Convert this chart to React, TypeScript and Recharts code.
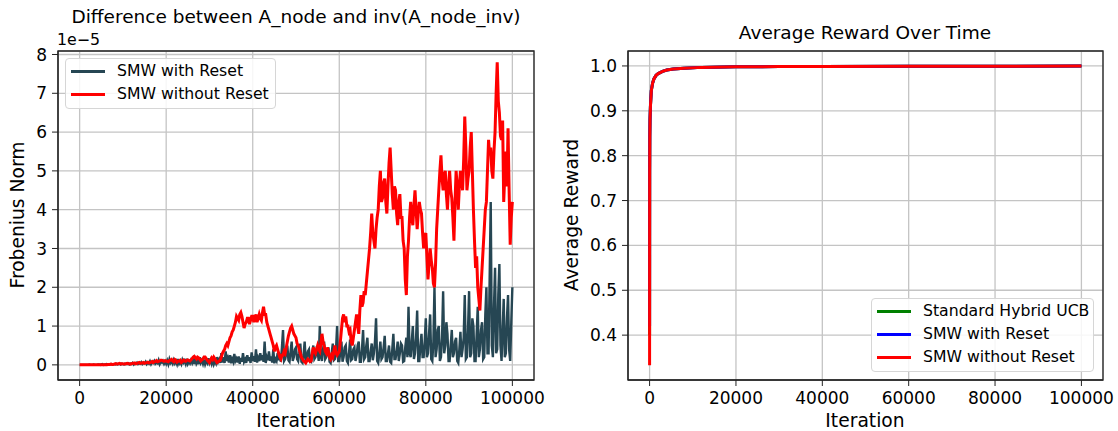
import React from "react";
import {
  LineChart,
  Line,
  XAxis,
  YAxis,
  CartesianGrid,
  ReferenceArea,
} from "recharts";

// left panel: Frobenius norm in units of 1e-5, one reading every 250 iterations
const ITER_STEP = 250;

const SMW_RESET_NORM = [
  0, 0, 0, 0, 0, 0, 0, 0, 0, 0.01, 0, 0, 0, 0.01, 0, 0, 0, 0.01, 0.01, 0, 0.01, 0.02, 0, 0.01, 0.01, 0.02, 0.01, 0.01, 0.01, 0.02, 0.01, 0.02, 0.02, 0.01, 0.03, 0.01, 0.02, 0.03, 0.01, 0.03,
  0.02, 0.01, 0.03, 0.02, 0.02, 0.04, 0.01, 0.03, 0.02, 0.05, 0.01, 0.04, 0.03, 0.06, 0.02, 0.04, 0.03, 0.07, 0.02, 0.05, 0.04, 0.08, 0.02, 0.06, 0.03, 0.09, 0.02, 0.07, 0.05, 0.1, 0.03, 0.06, 0.04, 0.12, 0.02, 0.08, 0.06, 0.1, 0.03, 0.09,
  0.03, 0.11, 0.02, 0.14, 0.05, 0.09, 0.03, 0.12, 0.04, 0.1, 0.02, 0.15, 0.03, 0.08, 0.02, 0.13, 0.06, 0.11, 0.03, 0.16, 0.03, 0.09, 0.04, 0.12, 0.05, 0.14, 0.02, 0.18, 0.04, 0.1, 0.02, 0.2, 0.06, 0.12, 0.03, 0.14, 0.02, 0.11, 0.05, 0.17,
  0.05, 0.12, 0.03, 0.15, 0.02, 0.1, 0.04, 0.2, 0.08, 0.14, 0.05, 0.3, 0.06, 0.2, 0.05, 0.35, 0.1, 0.18, 0.06, 0.25, 0.04, 0.15, 0.08, 0.28, 0.1, 0.16, 0.06, 0.22, 0.03, 0.18, 0.08, 0.3, 0.08, 0.14, 0.05, 0.25, 0.1, 0.2, 0.05, 0.32,
  0.1, 0.22, 0.08, 0.4, 0.06, 0.18, 0.1, 0.3, 0.12, 0.25, 0.08, 0.6, 0.05, 0.2, 0.12, 0.35, 0.1, 0.22, 0.06, 0.4, 0.04, 0.15, 0.1, 0.3, 0.12, 0.2, 0.08, 0.45, 0.9, 0.1, 0.15, 0.3, 0.5, 0.12, 0.08, 0.35, 0.6, 0.1, 0.2, 0.4,
  0.45, 0.15, 0.1, 0.3, 0.55, 0.08, 0.05, 0.25, 0.6, 0.12, 0.15, 0.35, 0.4, 0.1, 0.08, 0.3, 0.5, 0.15, 0.2, 0.4, 0.35, 0.1, 1.0, 0.2, 0.1, 0.4, 0.6, 0.15, 0.2, 0.35, 0.45, 0.08, 0.05, 0.3, 0.55, 0.12, 0.15, 0.4, 1.0, 0.1,
  0.1, 0.35, 0.6, 0.08, 0.2, 0.45, 0.5, 0.1, 0.05, 0.3, 0.65, 0.12, 0.15, 0.4, 0.45, 0.1, 0.25, 0.5, 0.6, 0.08, 0.08, 0.4, 0.9, 0.15, 0.2, 0.5, 0.7, 0.1, 0.1, 0.35, 0.55, 0.12, 0.3, 0.6, 1.2, 0.1, 0.05, 0.3, 0.6, 0.15,
  0.2, 0.45, 0.75, 0.1, 0.1, 0.3, 0.5, 0.08, 0.05, 0.4, 0.8, 0.15, 0.15, 0.35, 0.6, 0.1, 0.3, 0.55, 0.5, 0.08, 0.1, 0.45, 0.7, 0.2, 1.5, 0.3, 0.2, 0.6, 1.0, 0.15, 0.3, 0.7, 1.4, 0.1, 0.1, 0.5, 0.8, 0.2, 0.2, 0.6,
  1.2, 0.2, 0.3, 0.8, 1.3, 0.15, 0.1, 0.6, 2.0, 0.2, 0.4, 0.9, 1.0, 0.1, 0.2, 0.7, 1.9, 0.3, 0.5, 1.1, 0.8, 0.1, 0.1, 0.5, 0.9, 0.2, 0.3, 0.6, 0.7, 0.1, 0.05, 0.4, 0.85, 0.2, 0.4, 0.7, 1.8, 0.15, 0.2, 0.9,
  1.9, 0.2, 0.3, 1.2, 1.0, 0.1, 0.1, 0.8, 1.5, 0.2, 0.4, 0.9, 1.1, 0.15, 0.2, 1.3, 2.0, 0.3, 0.3, 2.2, 4.2, 0.5, 0.2, 1.5, 2.5, 0.3, 0.4, 1.8, 2.6, 0.5, 0.1, 0.9, 1.7, 0.2, 0.3, 1.2, 1.8, 0.4, 0.1, 1.1,
  2.0,
];

const SMW_NO_RESET_NORM = [
  0, 0, 0, 0, 0, 0, 0, 0, 0, 0, 0, 0, 0, 0, 0, 0, 0, 0, 0, 0, 0, 0, 0, 0, 0, 0, 0.01, 0.01, 0.01, 0.02, 0.01, 0.01, 0.02, 0.03, 0.02, 0.02, 0.03, 0.04, 0.02, 0.03,
  0.03, 0.02, 0.02, 0.03, 0.04, 0.03, 0.03, 0.02, 0.03, 0.04, 0.04, 0.05, 0.03, 0.04, 0.05, 0.06, 0.04, 0.05, 0.05, 0.06, 0.04, 0.05, 0.06, 0.07, 0.05, 0.06, 0.07, 0.09, 0.06, 0.08, 0.09, 0.11, 0.08, 0.09, 0.1, 0.12, 0.12, 0.1, 0.09, 0.11,
  0.1, 0.09, 0.08, 0.11, 0.12, 0.14, 0.1, 0.08, 0.14, 0.12, 0.07, 0.09, 0.1, 0.12, 0.06, 0.08, 0.12, 0.1, 0.09, 0.12, 0.13, 0.11, 0.1, 0.13, 0.16, 0.2, 0.22, 0.18, 0.15, 0.2, 0.18, 0.14, 0.1, 0.13, 0.15, 0.2, 0.2, 0.16, 0.12, 0.09,
  0.06, 0.12, 0.18, 0.14, 0.2, 0.16, 0.1, 0.06, 0.08, 0.1, 0.12, 0.2, 0.3, 0.35, 0.4, 0.5, 0.55, 0.5, 0.6, 0.7, 0.75, 0.85, 0.9, 1.0, 1.1, 1.25, 1.2, 1.15, 1.3, 1.35, 1.25, 1.1, 0.95, 1.05, 1.1, 1.2, 1.2, 1.05, 1.15, 1.25,
  1.25, 1.1, 1.2, 1.3, 1.1, 1.2, 1.3, 1.2, 1.15, 1.35, 1.5, 1.3, 1.3, 1.1, 1.0, 0.9, 0.8, 0.7, 0.6, 0.5, 0.35, 0.45, 0.5, 0.4, 0.3, 0.2, 0.15, 0.25, 0.25, 0.35, 0.3, 0.45, 0.6, 0.75, 0.85, 0.95, 1.0, 0.9, 0.8, 0.75,
  0.7, 0.55, 0.5, 0.4, 0.3, 0.2, 0.15, 0.1, 0.08, 0.05, 0.1, 0.15, 0.12, 0.08, 0.1, 0.3, 0.45, 0.35, 0.3, 0.4, 0.5, 0.4, 0.35, 0.55, 0.8, 0.6, 0.5, 0.35, 0.3, 0.45, 0.35, 0.2, 0.15, 0.25, 0.2, 0.35, 0.5, 0.3, 0.25, 0.3,
  0.35, 0.6, 0.9, 1.2, 1.3, 1.1, 1.25, 1.0, 1.0, 0.85, 0.9, 0.6, 0.5, 0.7, 0.9, 1.1, 1.3, 1.0, 0.8, 1.4, 1.8, 1.5, 1.6, 1.9, 1.8, 2.1, 2.4, 2.7, 3.0, 3.4, 3.9, 3.4, 3.2, 3.0, 3.5, 3.8, 4.0, 4.6, 5.0, 4.2,
  4.3, 4.7, 4.8, 4.2, 3.9, 4.6, 5.2, 5.6, 5.0, 4.4, 4.0, 4.6, 4.5, 3.9, 3.6, 4.2, 4.4, 3.8, 3.8, 3.2, 3.0, 2.2, 1.8, 2.8, 3.2, 3.8, 4.2, 3.8, 3.6, 4.1, 4.5, 4.0, 3.5, 3.9, 4.2, 4.0, 3.9, 3.4, 3.0, 3.3,
  3.4, 2.8, 2.2, 2.6, 3.0, 2.7, 2.5, 2.1, 2.0, 2.6, 3.5, 4.0, 4.5, 5.0, 5.4, 4.8, 4.5, 4.9, 5.0, 4.4, 4.0, 4.6, 5.0, 4.5, 4.3, 3.8, 3.2, 4.2, 5.0, 4.6, 4.0, 4.6, 5.0, 4.8, 4.5, 5.3, 6.4, 5.6, 4.5, 4.8,
  5.0, 5.6, 6.0, 5.0, 4.0, 3.2, 2.5, 2.8, 2.0, 1.7, 1.4, 2.0, 2.5, 3.0, 3.5, 4.0, 4.2, 5.0, 5.8, 5.4, 5.6, 5.0, 4.8, 5.5, 6.0, 7.0, 7.8, 6.8, 6.5, 5.9, 5.8, 6.3, 4.2, 4.9, 5.5, 4.6, 6.1, 4.5, 3.1, 3.8,
  4.2,
];

// right panel: average reward
const REWARD_ITERS = [
  0, 10, 20, 50, 100, 200, 400, 700, 1000, 1500, 2000, 3000, 4000, 5500, 8000, 12000, 20000, 30000,
  40000, 60000, 80000, 100000,
];
const HYBRID_REWARD = [
  0.4, 0.61, 0.755, 0.842, 0.881, 0.911, 0.945, 0.962, 0.971, 0.979, 0.983, 0.988, 0.991, 0.993, 0.995,
  0.9968, 0.998, 0.9986, 0.999, 0.9993, 0.9995, 0.9996,
];
const SMW_RESET_REWARD = [
  0.42, 0.62, 0.76, 0.845, 0.882, 0.912, 0.946, 0.962, 0.971, 0.979, 0.983, 0.988, 0.991, 0.993, 0.995,
  0.9968, 0.998, 0.9986, 0.999, 0.9993, 0.9995, 0.9996,
];
const SMW_NO_RESET_REWARD = [
  0.333, 0.6, 0.75, 0.84, 0.88, 0.91, 0.945, 0.962, 0.971, 0.979, 0.983, 0.988, 0.991, 0.993, 0.995,
  0.9968, 0.998, 0.9986, 0.999, 0.9993, 0.9995, 0.9996,
];

const X_TICKS = [0, 20000, 40000, 60000, 80000, 100000];
const NORM_TICKS = [0, 1, 2, 3, 4, 5, 6, 7, 8];
const REWARD_TICKS = [0.4, 0.5, 0.6, 0.7, 0.8, 0.9, 1.0];

const FONT = "'DejaVu Sans', sans-serif";
const DARK = "#264653";

const normData = SMW_RESET_NORM.map((v, i) => ({
  iter: i * ITER_STEP,
  reset: v,
  noReset: SMW_NO_RESET_NORM[i],
}));

const rewardData = REWARD_ITERS.map((it, i) => ({
  iter: it,
  hybrid: HYBRID_REWARD[i],
  reset: SMW_RESET_REWARD[i],
  noReset: SMW_NO_RESET_REWARD[i],
}));

const tickStyle = { fontSize: 17, fill: "#000", fontFamily: FONT };

type Item = { label: string; color: string };

const LegendBox = ({ left, top, width, items }: { left: number; top: number; width: number; items: Item[] }) => (
  <div
    style={{
      position: "absolute",
      left,
      top,
      width,
      height: items.length * 23 + 5,
      border: "1px solid #d6d6d6",
      borderRadius: 4,
      background: "rgba(255,255,255,0.85)",
      boxSizing: "border-box",
      fontFamily: FONT,
      fontSize: 15.7,
    }}
  >
    {items.map((it, i) => (
      <div key={it.label} style={{ position: "absolute", left: 0, top: 1 + i * 23, height: 23, width: "100%" }}>
        <div style={{ position: "absolute", left: 5, top: 10, width: 34, height: 3, background: it.color }} />
        <div style={{ position: "absolute", left: 51, top: 1, lineHeight: "20px", whiteSpace: "nowrap" }}>{it.label}</div>
      </div>
    ))}
  </div>
);

const text = (s: string, style: React.CSSProperties) => (
  <div style={{ position: "absolute", fontFamily: FONT, color: "#000", whiteSpace: "nowrap", lineHeight: 1, ...style }}>{s}</div>
);

export default function App() {
  return (
    <div style={{ position: "absolute", left: 0, top: 0, width: 1118, height: 431, background: "#fff", overflow: "hidden" }}>
      <div style={{ position: "absolute", left: 0, top: 0 }}>
        <LineChart width={560} height={431} data={normData} margin={{ top: 51, right: 26, left: 0, bottom: 0 }}>
          <CartesianGrid stroke="#c4c4c4" strokeWidth={1.3} />
          <XAxis
            dataKey="iter"
            type="number"
            domain={[-5000, 105000]}
            ticks={X_TICKS}
            allowDataOverflow
            height={51}
            tick={tickStyle}
            tickMargin={6}
            tickSize={6}
            stroke="#222"
          />
          <YAxis
            type="number"
            domain={[-0.39, 8.09]}
            ticks={NORM_TICKS}
            allowDataOverflow
            width={58}
            tick={tickStyle}
            tickMargin={5}
            tickSize={6}
            stroke="#222"
          />
          <ReferenceArea x1={-5000} x2={105000} y1={-0.39} y2={8.09} fill="none" stroke="#222" strokeWidth={1.3} />
          <Line dataKey="reset" name="SMW with Reset" type="linear" stroke={DARK} strokeWidth={2.4} dot={false} isAnimationActive={false} />
          <Line dataKey="noReset" name="SMW without Reset" type="linear" stroke="#ff0000" strokeWidth={3} dot={false} isAnimationActive={false} />
        </LineChart>
      </div>

      <div style={{ position: "absolute", left: 560, top: 0 }}>
        <LineChart width={558} height={431} data={rewardData} margin={{ top: 51, right: 15, left: 0, bottom: 0 }}>
          <CartesianGrid stroke="#c4c4c4" strokeWidth={1.3} />
          <XAxis
            dataKey="iter"
            type="number"
            domain={[-5000, 105000]}
            ticks={X_TICKS}
            allowDataOverflow
            height={51}
            tick={tickStyle}
            tickMargin={6}
            tickSize={6}
            stroke="#222"
          />
          <YAxis
            type="number"
            domain={[0.3, 1.0333]}
            ticks={REWARD_TICKS}
            allowDataOverflow
            width={68}
            tick={tickStyle}
            tickMargin={5}
            tickSize={6}
            tickFormatter={(v: number) => v.toFixed(1)}
            stroke="#222"
          />
          <ReferenceArea x1={-5000} x2={105000} y1={0.3} y2={1.0333} fill="none" stroke="#222" strokeWidth={1.3} />
          <Line dataKey="hybrid" type="linear" stroke="#008000" strokeWidth={3} dot={false} isAnimationActive={false} />
          <Line dataKey="reset" type="linear" stroke="#0000ff" strokeWidth={3} dot={false} isAnimationActive={false} />
          <Line dataKey="noReset" type="linear" stroke="#ff0000" strokeWidth={3} dot={false} isAnimationActive={false} />
        </LineChart>
      </div>

      {text("Difference between A_node and inv(A_node_inv)", { left: 296, top: 17, transform: "translate(-50%,-50%)", fontSize: 18.5 })}
      {text("1e\u22125", { left: 57, top: 40, transform: "translateY(-50%)", fontSize: 15.8 })}
      {text("Iteration", { left: 296, top: 421, transform: "translate(-50%,-50%)", fontSize: 18.7 })}
      {text("Frobenius Norm", { left: 18, top: 215, transform: "translate(-50%,-50%) rotate(-90deg)", fontSize: 18.7 })}

      {text("Average Reward Over Time", { left: 865, top: 33, transform: "translate(-50%,-50%)", fontSize: 18.5 })}
      {text("Iteration", { left: 865, top: 421, transform: "translate(-50%,-50%)", fontSize: 18.7 })}
      {text("Average Reward", { left: 572, top: 215, transform: "translate(-50%,-50%) rotate(-90deg)", fontSize: 18.7 })}

      <LegendBox
        left={65}
        top={58}
        width={211}
        items={[
          { label: "SMW with Reset", color: DARK },
          { label: "SMW without Reset", color: "#ff0000" },
        ]}
      />
      <LegendBox
        left={871}
        top={298}
        width={223}
        items={[
          { label: "Standard Hybrid UCB", color: "#008000" },
          { label: "SMW with Reset", color: "#0000ff" },
          { label: "SMW without Reset", color: "#ff0000" },
        ]}
      />
    </div>
  );
}
